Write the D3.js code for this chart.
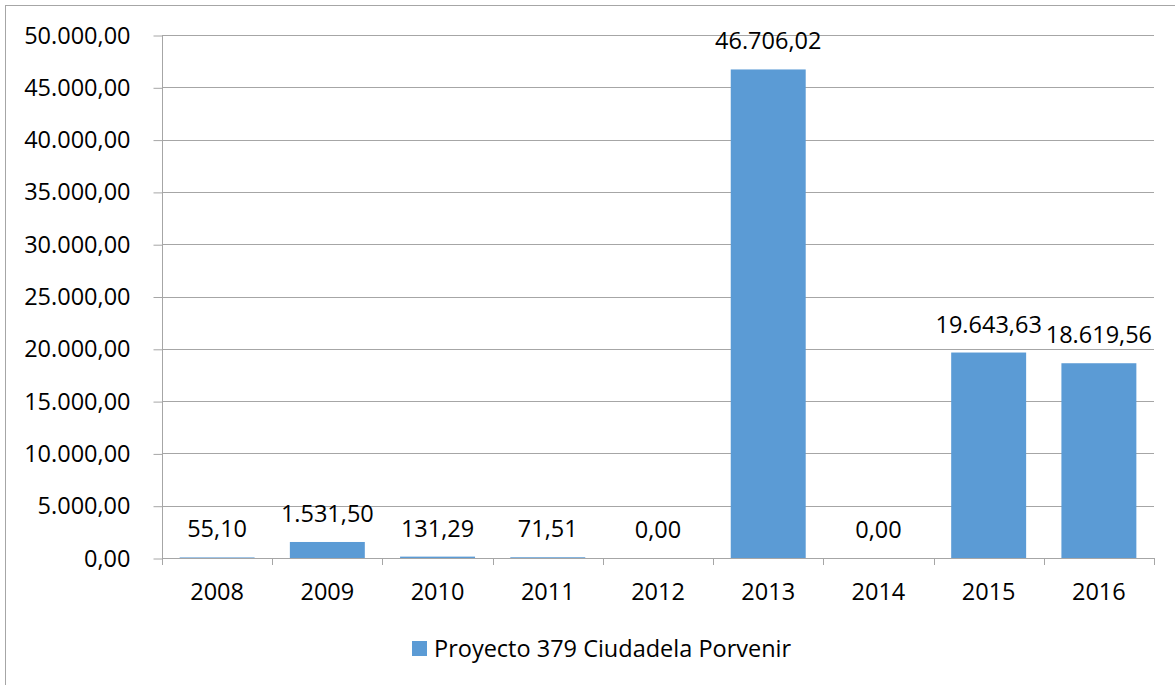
<!DOCTYPE html>
<html>
<head>
<meta charset="utf-8">
<script src="https://cdn.jsdelivr.net/npm/d3@7"></script>
<style>
  body { margin: 0; background: #fff; }
  svg text { font-family: "Open Sans", sans-serif; fill: #000; }
</style>
</head>
<body>
<svg id="chart" width="1175" height="685"></svg>
<script>
let years = ["2008", "2009", "2010", "2011", "2012", "2013", "2014", "2015", "2016"];
let values = [55.10, 1531.50, 131.29, 71.51, 0.00, 46706.02, 0.00, 19643.63, 18619.56];
let yTicks = [0, 5000, 10000, 15000, 20000, 25000, 30000, 35000, 40000, 45000, 50000];
let seriesName = "Proyecto 379 Ciudadela Porvenir";

let es = d3.formatLocale({ decimal: ",", thousands: ".", grouping: [3], currency: ["", ""] });
let fmt = es.format(",.2f");

let svg = d3.select("#chart");
let margin = { top: 35, right: 21, bottom: 127, left: 162 };
let width = 1175, height = 685;
let barColour = "#5B9BD5";
let gridColour = "#A6A6A6";

// outer chart border
svg.append("rect")
  .attr("x", 5.5).attr("y", 5.5)
  .attr("width", width).attr("height", height)
  .attr("fill", "none")
  .attr("stroke", "#A6A6A6");

let x = d3.scaleBand()
  .domain(years)
  .range([margin.left, width - margin.right])
  .paddingInner(0.32)
  .paddingOuter(0.16);

let y = d3.scaleLinear()
  .domain([0, 50000])
  .range([height - margin.bottom, margin.top]);

// gridlines
svg.append("g")
  .selectAll("line")
    .data(yTicks.slice(1))
  .enter().append("line")
    .attr("x1", margin.left).attr("x2", width - margin.right)
    .attr("y1", function(d) { return Math.round(y(d)) + 0.5; })
    .attr("y2", function(d) { return Math.round(y(d)) + 0.5; })
    .attr("stroke", gridColour);

// y axis
let yAxis = d3.axisLeft(y)
  .tickValues(yTicks)
  .tickSize(9)
  .tickPadding(23)
  .tickFormat(fmt);

let yGroup = svg.append("g")
  .attr("transform", "translate(" + (margin.left + 0.5) + ",0.5)")
  .call(yAxis);
yGroup.select(".domain").remove();
yGroup.selectAll(".tick line").attr("stroke", gridColour);
yGroup.selectAll(".tick text").style("font-size", "23.5px");

// bars
svg.append("g")
  .selectAll("rect")
    .data(values)
  .enter().append("rect")
    .attr("x", function(d, i) { return x(years[i]); })
    .attr("y", function(d) { return y(d); })
    .attr("width", x.bandwidth())
    .attr("height", function(d) { return y(0) - y(d); })
    .attr("fill", barColour);

// vertical axis line (drawn down to tick length)
svg.append("line")
  .attr("x1", margin.left + 0.5).attr("x2", margin.left + 0.5)
  .attr("y1", margin.top).attr("y2", y(0) + 7)
  .attr("stroke", gridColour);

// x axis with category boundary ticks
let step = x.step();
let boundaries = d3.range(years.length + 1).map(function(i) {
  return margin.left + i * step;
});

svg.append("line")
  .attr("x1", margin.left).attr("x2", width - margin.right)
  .attr("y1", Math.round(y(0)) + 0.5).attr("y2", Math.round(y(0)) + 0.5)
  .attr("stroke", gridColour);

svg.append("g")
  .selectAll("line")
    .data(boundaries)
  .enter().append("line")
    .attr("x1", function(d) { return Math.round(d) + 0.5; })
    .attr("x2", function(d) { return Math.round(d) + 0.5; })
    .attr("y1", y(0)).attr("y2", y(0) + 7)
    .attr("stroke", gridColour);

svg.append("g")
  .selectAll("text")
    .data(years)
  .enter().append("text")
    .attr("x", function(d) { return x(d) + x.bandwidth() / 2; })
    .attr("y", y(0) + 42)
    .attr("text-anchor", "middle")
    .style("font-size", "23.5px")
    .text(function(d) { return d; });

// data labels
svg.append("g")
  .selectAll("text")
    .data(values)
  .enter().append("text")
    .attr("x", function(d, i) { return x(years[i]) + x.bandwidth() / 2; })
    .attr("y", function(d) { return y(d) - 20; })
    .attr("text-anchor", "middle")
    .style("font-size", "23.5px")
    .text(function(d) { return fmt(d); });

// legend
let legend = svg.append("g")
  .attr("transform", "translate(412,641)");
legend.append("rect")
  .attr("width", 15).attr("height", 15)
  .attr("fill", barColour);
legend.append("text")
  .attr("x", 22).attr("y", 16)
  .style("font-size", "23.5px")
  .text(seriesName);
</script>
</body>
</html>
